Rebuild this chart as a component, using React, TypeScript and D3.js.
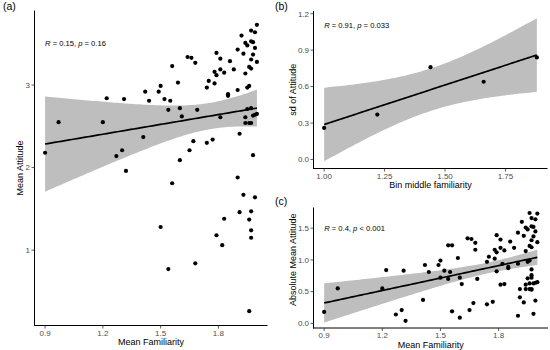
import * as d3 from 'd3';

// panel (a) / (c): one point per respondent
const familiarity = [
    0.90, 0.97, 1.20, 1.22, 1.31, 1.30, 1.27, 1.32, 1.41, 1.42,
    1.44, 1.49, 1.50, 1.52, 1.55, 1.54, 1.56, 1.59, 1.60, 1.61,
    1.64, 1.66, 1.68, 1.67, 1.65, 1.60, 1.69, 1.74, 1.75, 1.74,
    1.77, 1.78, 1.79, 1.81, 1.78, 1.79, 1.81, 1.83, 1.81, 1.85,
    1.85, 1.86, 1.88, 1.90, 1.90, 1.91, 1.92, 1.93, 1.94, 1.94,
    1.95, 1.95, 1.96, 1.95, 1.94, 1.94, 1.96, 1.97, 1.97, 1.97,
    1.98, 1.99, 2.00, 1.99, 1.98, 1.97, 1.97, 1.96, 2.00, 1.97,
    1.98, 1.99, 2.00, 1.98, 1.56, 1.90, 1.93, 1.99, 1.91, 1.97,
    1.96, 1.83, 1.50, 1.97, 1.79, 1.97, 1.82, 1.68, 1.54, 1.96,
];
const attitude = [
    2.18, 2.55, 2.55, 2.84, 2.83, 2.21, 2.14, 1.96, 2.37, 2.92,
    2.81, 2.92, 2.99, 2.83, 2.81, 2.70, 3.23, 3.03, 2.72, 2.62,
    3.34, 3.33, 3.27, 2.32, 2.21, 2.09, 2.70, 2.97, 3.05, 2.30,
    2.34, 3.02, 3.39, 3.32, 3.16, 3.12, 3.19, 3.15, 2.61, 2.87,
    2.89, 3.29, 3.19, 3.43, 2.94, 2.41, 3.60, 3.38, 3.14, 3.51,
    3.48, 2.97, 2.99, 2.71, 2.61, 2.54, 2.54, 2.54, 3.66, 3.53,
    3.52, 3.64, 3.73, 3.45, 3.37, 3.31, 3.20, 3.22, 3.28, 2.72,
    2.63, 2.64, 2.65, 2.15, 1.81, 1.88, 1.67, 1.64, 1.46, 1.47,
    1.37, 1.38, 1.28, 1.24, 1.18, 1.15, 1.06, 0.84, 0.77, 0.26,
];
const absAttitude = [
    0.18, 0.55, 0.55, 0.84, 0.83, 0.21, 0.14, 0.04, 0.37, 0.92,
    0.81, 0.92, 0.99, 0.83, 0.81, 0.70, 1.23, 1.03, 0.72, 0.62,
    1.34, 1.33, 1.27, 0.32, 0.21, 0.09, 0.70, 0.97, 1.05, 0.30,
    0.34, 1.02, 1.39, 1.32, 1.16, 1.12, 1.19, 1.15, 0.61, 0.87,
    0.89, 1.29, 1.19, 1.43, 0.94, 0.41, 1.60, 1.38, 1.14, 1.51,
    1.48, 0.97, 0.99, 0.71, 0.61, 0.54, 0.54, 0.54, 1.66, 1.53,
    1.52, 1.64, 1.73, 1.45, 1.37, 1.31, 1.20, 1.22, 1.28, 0.72,
    0.63, 0.64, 0.65, 0.15, 0.19, 0.12, 0.33, 0.36, 0.54, 0.53,
    0.63, 0.62, 0.72, 0.76, 0.82, 0.85, 0.94, 1.16, 1.23, 1.74,
];

// panel (b): binned
const binMiddle = [1.00, 1.22, 1.44, 1.66, 1.88];
const sdAttitude = [0.26, 0.37, 0.76, 0.64, 0.84];

const famTicks = [0.9, 1.2, 1.5, 1.8];
const attTicks = [1, 2, 3];
const binTicks = [1.0, 1.25, 1.5, 1.75];
const sdTicks = [0.0, 0.3, 0.6, 0.9, 1.2];
const absTicks = [0.0, 0.5, 1.0, 1.5];

const FONT = '"Liberation Sans", Arial, Helvetica, sans-serif';

// log-gamma (Lanczos), needed for the t distribution
function lgamma(z) {
    const c = [0.99999999999980993, 676.5203681218851, -1259.1392167224028,
        771.32342877765313, -176.61502916214059, 12.507343278686905,
        -0.13857109526572012, 9.9843695780195716e-6, 1.5056327351493116e-7];
    z -= 1;
    let x = c[0];
    for (let i = 1; i < 9; i++) x += c[i] / (z + i);
    const t = z + 7.5;
    return 0.5 * Math.log(2 * Math.PI) + (z + 0.5) * Math.log(t) - t + Math.log(x);
}

function tCdf(t, df) {
    const k = Math.exp(lgamma((df + 1) / 2) - lgamma(df / 2)) / Math.sqrt(df * Math.PI);
    const f = (x) => k * Math.pow(1 + (x * x) / df, -(df + 1) / 2);
    const n = 400;
    const h = t / n;
    let s = f(0) + f(t);
    for (let i = 1; i < n; i++) s += (i % 2 ? 4 : 2) * f(i * h);
    return 0.5 + (s * h) / 3;
}

function tQuantile(p, df) {
    let lo = 0, hi = 60;
    for (let i = 0; i < 60; i++) {
        const mid = (lo + hi) / 2;
        if (tCdf(mid, df) < p) lo = mid; else hi = mid;
    }
    return (lo + hi) / 2;
}

// lm fit + 95% confidence band, like geom_smooth(method = "lm")
function fitLm(xs, ys) {
    const n = xs.length;
    const mx = d3.mean(xs), my = d3.mean(ys);
    let sxx = 0, sxy = 0;
    xs.forEach((x, i) => { sxx += (x - mx) ** 2; sxy += (x - mx) * (ys[i] - my); });
    const b = sxy / sxx;
    const a = my - b * mx;
    let sse = 0;
    xs.forEach((x, i) => { sse += (ys[i] - a - b * x) ** 2; });
    const s = Math.sqrt(sse / (n - 2));
    const tc = tQuantile(0.975, n - 2);
    const [x0, x1] = d3.extent(xs);
    return d3.range(80).map((i) => {
        const x = x0 + ((x1 - x0) * i) / 79;
        const y = a + b * x;
        const se = s * Math.sqrt(1 / n + (x - mx) ** 2 / sxx);
        return { x, y, lo: y - tc * se, hi: y + tc * se };
    });
}

function expand([lo, hi]) {
    const d = (hi - lo) * 0.05;
    return [lo - d, hi + d];
}

function Panel({
    box, xs, ys, xTicks, yTicks, xFmt, yFmt, xTitle, yTitle, tag, stat, yTitleShift = 0,
}) {
    const fit = fitLm(xs, ys);
    const x = d3.scaleLinear().domain(expand(d3.extent(xs))).range([box.left, box.right]);
    const yExt = d3.extent([...ys, ...fit.map((d) => d.lo), ...fit.map((d) => d.hi)]);
    const y = d3.scaleLinear().domain(expand(yExt)).range([box.bottom, box.top]);

    const band = d3.area().x((d) => x(d.x)).y0((d) => y(d.lo)).y1((d) => y(d.hi));
    const line = d3.line().x((d) => x(d.x)).y((d) => y(d.y));
    const midY = (box.top + box.bottom) / 2 + yTitleShift;

    return (
        <g fontFamily={FONT}>
            <text x={box.tagX} y={box.tagY} fontSize={10.5} fill="#000">{tag}</text>
            <path d={band(fit)} fill="#bebebe" />
            <path d={line(fit)} fill="none" stroke="#000" strokeWidth={1.7} />
            {xs.map((v, i) => (
                <circle key={i} cx={x(v)} cy={y(ys[i])} r={2.1} fill="#000" />
            ))}
            <text x={x(d3.min(xs))} y={box.statY} fontSize={7.6} fill="#000">
                <tspan fontStyle="italic">R</tspan>
                {` = ${stat[0]}, `}
                <tspan fontStyle="italic">p</tspan>
                {` ${stat[1]}`}
            </text>
            {/* axes */}
            <line x1={box.left} x2={box.left} y1={box.top} y2={box.bottom + 0.5} stroke="#000" strokeWidth={1} />
            <line x1={box.left - 0.5} x2={box.right} y1={box.bottom} y2={box.bottom} stroke="#000" strokeWidth={1} />
            {yTicks.map((t) => (
                <g key={t}>
                    <line x1={box.left - 3} x2={box.left} y1={y(t)} y2={y(t)} stroke="#333" strokeWidth={0.8} />
                    <text x={box.left - 4.5} y={y(t)} dy="0.35em" textAnchor="end" fontSize={8} fill="#4d4d4d">
                        {yFmt(t)}
                    </text>
                </g>
            ))}
            {xTicks.map((t) => (
                <g key={t}>
                    <line x1={x(t)} x2={x(t)} y1={box.bottom} y2={box.bottom + 3} stroke="#333" strokeWidth={0.8} />
                    <text x={x(t)} y={box.bottom + 10} textAnchor="middle" fontSize={8} fill="#4d4d4d">
                        {xFmt(t)}
                    </text>
                </g>
            ))}
            <text x={(box.left + box.right) / 2} y={box.bottom + 19.5} textAnchor="middle" fontSize={9} fill="#000">
                {xTitle}
            </text>
            <text
                transform={`translate(${box.yTitleX},${midY}) rotate(-90)`}
                textAnchor="middle"
                fontSize={9}
                fill="#000"
            >
                {yTitle}
            </text>
        </g>
    );
}

export default function App() {
    const f1 = d3.format('.1f');
    const f2 = d3.format('.2f');
    const f0 = d3.format('d');
    return (
        <svg width={550} height={350} style={{ position: 'absolute', left: 0, top: 0, background: '#fff' }}>
            <rect width={550} height={350} fill="#fff" />
            <Panel
                box={{ left: 34.5, right: 267.5, top: 10.5, bottom: 325.5, tagX: 3, tagY: 10, statY: 46, yTitleX: 23 }}
                xs={familiarity}
                ys={attitude}
                xTicks={famTicks}
                yTicks={attTicks}
                xFmt={f1}
                yFmt={f0}
                xTitle="Mean Familiarity"
                yTitle="Mean Attitude"
                tag="(a)"
                stat={['0.15', '= 0.16']}
            />
            <Panel
                box={{ left: 313.5, right: 547.5, top: 11, bottom: 168.5, tagX: 275, tagY: 10, statY: 27.5, yTitleX: 295.5 }}
                xs={binMiddle}
                ys={sdAttitude}
                xTicks={binTicks}
                yTicks={sdTicks}
                xFmt={f2}
                yFmt={f1}
                xTitle="Bin middle familiarity"
                yTitle="sd of Attitude"
                tag="(b)"
                stat={['0.91', '= 0.033']}
            />
            <Panel
                box={{ left: 313.5, right: 548, top: 207.5, bottom: 328, tagX: 275, tagY: 205, statY: 231, yTitleX: 295.5 }}
                xs={familiarity}
                ys={absAttitude}
                xTicks={famTicks}
                yTicks={absTicks}
                xFmt={f1}
                yFmt={f1}
                xTitle="Mean Familiarity"
                yTitle="Absolute Mean Attitude"
                tag="(c)"
                stat={['0.4', '< 0.001']}
                yTitleShift={-8}
            />
        </svg>
    );
}
